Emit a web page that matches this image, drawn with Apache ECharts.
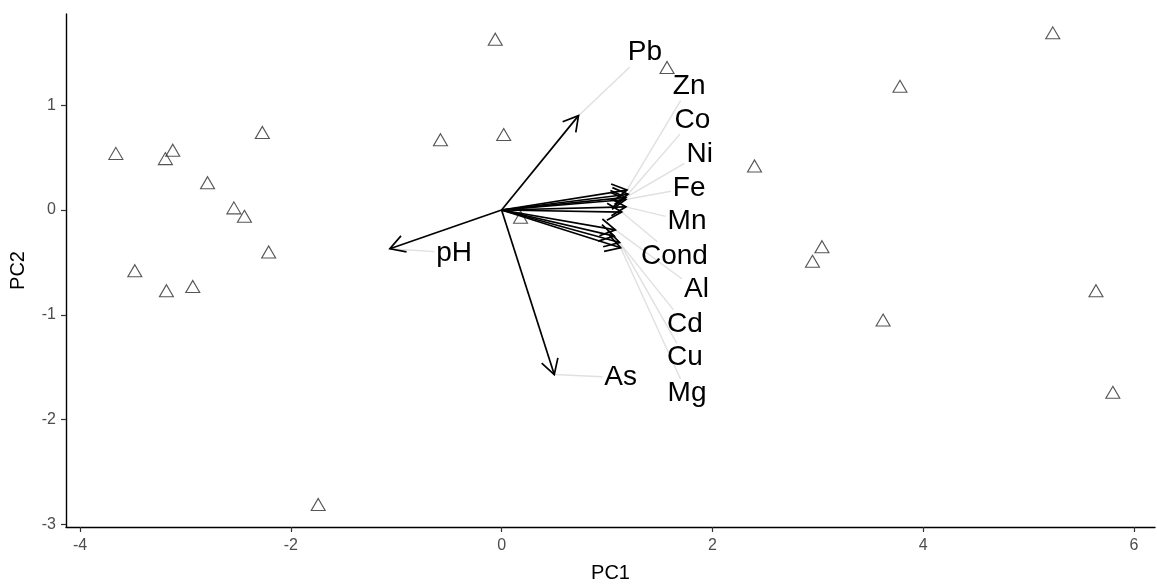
<!DOCTYPE html>
<html>
<head>
<meta charset="utf-8">
<style>
  html, body { margin: 0; padding: 0; background: #ffffff; }
  #chart { width: 1157px; height: 588px; }
</style>
<script src="https://cdn.jsdelivr.net/npm/echarts@6/dist/echarts.min.js"></script>
</head>
<body>
<div id="chart"></div>
<script>
// Sample scores on the first two principal components
const scorePC1 = [-3.66, -3.19, -3.12, -2.79, -2.54, -2.44, -2.27, -2.21, -3.48, -3.18, -2.93,
                  -1.74, -0.06, -0.58, 0.02, 0.18, 1.57, 2.40, 5.23, 3.78, 3.04, 2.95, 5.64, 3.62, 5.80];
const scorePC2 = [0.54, 0.49, 0.57, 0.26, 0.02, -0.06, 0.74, -0.40, -0.58, -0.77, -0.73,
                  -2.81, 1.63, 0.67, 0.72, -0.07, 1.36, 0.42, 1.69, 1.18, -0.35, -0.49, -0.77, -1.05, -1.74];

// Variable loadings (arrow tips) and repelled label positions
const varNames = ['Pb', 'Zn', 'Co', 'Ni', 'Fe', 'Mn', 'Cond', 'Al', 'Cd', 'Cu', 'Mg', 'As', 'pH'];
const loadPC1  = [0.73, 1.19, 1.20, 1.18, 1.18, 1.18, 1.14, 1.08, 1.07, 1.12, 1.13, 0.50, -1.06];
const loadPC2  = [0.90, 0.19, 0.15, 0.12, 0.10, 0.03, -0.02, -0.19, -0.25, -0.31, -0.36, -1.57, -0.37];
const labelPC1 = [1.36, 1.78, 1.81, 1.88, 1.78, 1.76, 1.64, 1.85, 1.74, 1.74, 1.76, 1.13, -0.45];
const labelPC2 = [1.50, 1.18, 0.86, 0.53, 0.21, -0.11, -0.44, -0.76, -1.09, -1.41, -1.75, -1.60, -0.41];

// Axis ticks
const xTicks = [-4, -2, 0, 2, 4, 6];
const yTicks = [-3, -2, -1, 0, 1];

const FONT = '"Liberation Sans", Arial, sans-serif';
const LABEL_SIZE = 28;

const measureCtx = document.createElement('canvas').getContext('2d');
function textBox(str) {
  measureCtx.font = LABEL_SIZE + 'px ' + FONT;
  return { w: measureCtx.measureText(str).width, h: LABEL_SIZE * 0.95 };
}

const scoreData = scorePC1.map((x, i) => [x, scorePC2[i]]);
const varData = varNames.map((n, i) => [loadPC1[i], loadPC2[i], labelPC1[i], labelPC2[i], n]);

// Segment from arrow tip to the edge of the label box
function renderSegment(params, api) {
  const tip = api.coord([api.value(0), api.value(1)]);
  const c = api.coord([api.value(2), api.value(3)]);
  const box = textBox(varNames[params.dataIndex]);
  const hw = box.w / 2 + 2, hh = box.h / 2 + 1;
  const dx = tip[0] - c[0], dy = tip[1] - c[1];
  if (Math.abs(dx) <= hw && Math.abs(dy) <= hh) return null;
  const t = Math.min(dx !== 0 ? hw / Math.abs(dx) : Infinity, dy !== 0 ? hh / Math.abs(dy) : Infinity);
  const end = [c[0] + dx * t, c[1] + dy * t];
  return {
    type: 'line',
    shape: { x1: tip[0], y1: tip[1], x2: end[0], y2: end[1] },
    style: { stroke: '#e0e0e0', lineWidth: 1.4 }
  };
}

// Arrow from the origin to the loading
function renderArrow(params, api) {
  const o = api.coord([0, 0]);
  const tip = api.coord([api.value(0), api.value(1)]);
  const ang = Math.atan2(tip[1] - o[1], tip[0] - o[0]);
  const L = 17, a = Math.PI / 6;
  const p1 = [tip[0] - L * Math.cos(ang - a), tip[1] - L * Math.sin(ang - a)];
  const p2 = [tip[0] - L * Math.cos(ang + a), tip[1] - L * Math.sin(ang + a)];
  const st = { stroke: '#000', lineWidth: 1.7, fill: null, lineJoin: 'miter' };
  return {
    type: 'group',
    children: [
      { type: 'line', shape: { x1: o[0], y1: o[1], x2: tip[0], y2: tip[1] }, style: st },
      { type: 'polyline', shape: { points: [p1, tip, p2] }, style: st }
    ]
  };
}

function renderLabel(params, api) {
  const c = api.coord([api.value(2), api.value(3)]);
  return {
    type: 'text',
    x: c[0], y: c[1],
    style: {
      text: varNames[params.dataIndex],
      font: LABEL_SIZE + 'px ' + FONT,
      fill: '#000',
      align: 'center',
      verticalAlign: 'middle'
    }
  };
}

const chart = echarts.init(document.getElementById('chart'), null, { renderer: 'canvas' });

const axisCommon = {
  type: 'value',
  splitLine: { show: false },
  axisLine: { show: true, onZero: false, lineStyle: { color: '#000', width: 1.4 } },
  axisTick: { show: true, length: 5, lineStyle: { color: '#333', width: 1.2 } },
  axisLabel: { color: '#4d4d4d', fontSize: 16, fontFamily: FONT },
  nameLocation: 'middle',
  nameTextStyle: { color: '#000', fontSize: 20, fontFamily: FONT }
};

chart.setOption({
  animation: false,
  backgroundColor: '#ffffff',
  grid: { left: 66, right: 2, top: 14, bottom: 56, containLabel: false },
  xAxis: Object.assign({}, axisCommon, {
    name: 'PC1', nameGap: 36,
    min: -4.133, max: 6.2,
    axisTick: Object.assign({}, axisCommon.axisTick, { customValues: xTicks }),
    axisLabel: Object.assign({}, axisCommon.axisLabel, { customValues: xTicks, margin: 11 })
  }),
  yAxis: Object.assign({}, axisCommon, {
    name: 'PC2', nameGap: 38,
    min: -3.025, max: 1.87,
    axisTick: Object.assign({}, axisCommon.axisTick, { customValues: yTicks }),
    axisLabel: Object.assign({}, axisCommon.axisLabel, { customValues: yTicks, margin: 10 })
  }),
  series: [
    {
      type: 'scatter',
      data: scoreData,
      symbol: 'triangle',
      symbolSize: [14, 12],
      itemStyle: { color: 'rgba(0,0,0,0)', borderColor: '#2b2b2b', borderWidth: 1.1 },
      z: 2
    },
    { type: 'custom', data: varData, renderItem: renderSegment, z: 3 },
    { type: 'custom', data: varData, renderItem: renderArrow, z: 4 },
    { type: 'custom', data: varData, renderItem: renderLabel, z: 5 }
  ]
});
</script>
</body>
</html>
